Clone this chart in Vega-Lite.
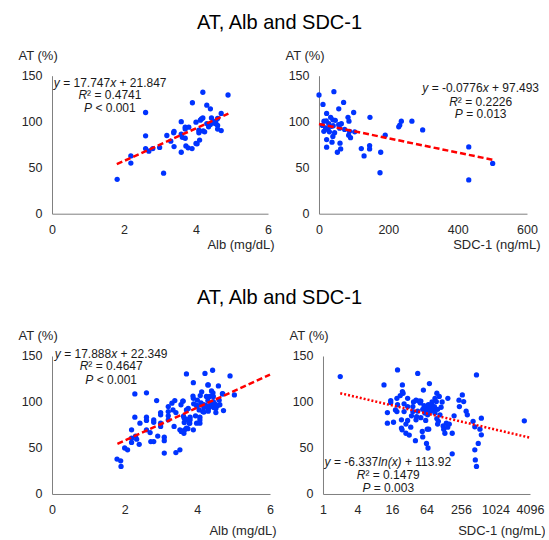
{
  "$schema": "https://vega.github.io/schema/vega-lite/v6.json",
  "background": "white",
  "padding": {"left": 18, "top": 12.7, "right": 0, "bottom": 0},
  "bounds": "flush",
  "spacing": 280.3,
  "config": {
    "view": {"stroke": null},
    "font": "Liberation Sans",
    "axis": {"grid": false, "ticks": false, "domainColor": "#808080", "domainWidth": 1, "labelColor": "#262626", "titleColor": "#262626", "labelFont": "Liberation Sans", "titleFont": "Liberation Sans", "labelFontSize": 12.5, "titleFontSize": 13, "titleFontWeight": "normal", "labelPadding": 10, "labelFlush": false, "labelOverlap": false},
    "axisY": {"titleAngle": 0, "titleAlign": "left", "titleBaseline": "middle", "titleX": -34, "titleY": -20},
    "axisX": {"titleAlign": "right", "titleBaseline": "middle"},
    "title": {"font": "Liberation Sans", "fontSize": 20, "fontWeight": "normal", "color": "#000000", "anchor": "middle", "frame": "group"}
  },
  "datasets": {
    "p1": [
      {"x":1.81,"y":37.4},{"x":2.19,"y":62.8},{"x":2.19,"y":55},{"x":2.6,"y":110},{"x":2.6,"y":84.6},{"x":2.6,"y":70.8},{"x":2.69,"y":68},{"x":2.8,"y":70.8},{"x":2.99,"y":72},{"x":3.1,"y":44},
      {"x":3.19,"y":85},{"x":3.3,"y":78.8},{"x":3.38,"y":88},{"x":3.39,"y":89.5},{"x":3.39,"y":73},{"x":3.59,"y":100},{"x":3.59,"y":86.5},{"x":3.59,"y":66.8},{"x":3.7,"y":94},{"x":3.7,"y":92},
      {"x":3.7,"y":82},{"x":3.8,"y":94},{"x":3.78,"y":71.6},{"x":3.89,"y":70.8},{"x":3.9,"y":120.6},{"x":3.72,"y":73.7},{"x":4.0,"y":99.5},{"x":4.0,"y":76.3},{"x":4.08,"y":90.8},{"x":4.08,"y":88},
      {"x":4.1,"y":80},{"x":4.12,"y":101.7},{"x":4.19,"y":104},{"x":4.19,"y":132},{"x":4.2,"y":90},{"x":4.24,"y":89},{"x":4.3,"y":118},{"x":4.3,"y":98},{"x":4.35,"y":94.4},{"x":4.4,"y":97},
      {"x":4.4,"y":114},{"x":4.5,"y":100},{"x":4.53,"y":98},{"x":4.55,"y":100},{"x":4.6,"y":103.5},{"x":4.6,"y":96},{"x":4.6,"y":92},{"x":4.7,"y":109},{"x":4.7,"y":90.4},{"x":4.89,"y":129},
      {"x":3.62,"y":83},{"x":4.15,"y":103},{"x":4.43,"y":104},{"x":4.03,"y":76}
    ],
    "p2": [
      {"x":0,"y":129},{"x":11.5,"y":118.8},{"x":43,"y":132.6},{"x":71,"y":121},{"x":57,"y":114},{"x":100,"y":110},{"x":22,"y":109},{"x":14.4,"y":100.6},{"x":33.6,"y":104.7},{"x":40,"y":102},
      {"x":47,"y":101.5},{"x":28,"y":98},{"x":21,"y":101},{"x":19,"y":93.3},{"x":26,"y":91.6},{"x":35.6,"y":95},{"x":41,"y":95.6},{"x":56.7,"y":96.7},{"x":59.6,"y":93},{"x":64.4,"y":97.8},
      {"x":74,"y":91.6},{"x":83.7,"y":104.7},{"x":86.5,"y":100.6},{"x":85.6,"y":85.4},{"x":91,"y":82.6},{"x":103,"y":89},{"x":22,"y":80.6},{"x":37.5,"y":77.7},{"x":22,"y":72.3},{"x":60.6,"y":76.6},
      {"x":62.5,"y":70.4},{"x":53,"y":66.8},{"x":147,"y":104.7},{"x":146,"y":74},{"x":146,"y":70.4},{"x":122,"y":70.8},{"x":130,"y":62.8},{"x":178,"y":66.8},{"x":176,"y":44.5},{"x":191,"y":85.4},
      {"x":230,"y":94.4},{"x":233,"y":96.3},{"x":237.5,"y":100.6},{"x":268,"y":100.6},{"x":299,"y":91},{"x":432,"y":72.6},{"x":432,"y":36.7},{"x":501,"y":54.6},{"x":14,"y":89.5},{"x":30,"y":89},
      {"x":45,"y":88},{"x":88,"y":89.5},{"x":40,"y":84},{"x":10,"y":96}
    ],
    "p3": [
      {"x":1.79,"y":37.9},{"x":1.89,"y":36},{"x":1.9,"y":30},{"x":2.0,"y":50},{"x":2.08,"y":48},{"x":2.19,"y":69.7},{"x":2.19,"y":56},{"x":2.19,"y":60.7},{"x":2.28,"y":83.5},{"x":2.28,"y":108.8},
      {"x":2.3,"y":63},{"x":2.33,"y":59.6},{"x":2.42,"y":77},{"x":2.4,"y":54},{"x":2.6,"y":110},{"x":2.6,"y":83.5},{"x":2.6,"y":80},{"x":2.6,"y":69.7},{"x":2.7,"y":66.8},{"x":2.72,"y":57},
      {"x":2.8,"y":80.5},{"x":2.8,"y":78},{"x":2.8,"y":57},{"x":2.88,"y":101.5},{"x":2.91,"y":63},{"x":2.99,"y":88.5},{"x":2.99,"y":86},{"x":2.99,"y":77},{"x":2.99,"y":73.4},{"x":3.09,"y":61.8},
      {"x":3.09,"y":58},{"x":3.09,"y":44.5},{"x":3.2,"y":95},{"x":3.2,"y":89.6},{"x":3.2,"y":85},{"x":3.2,"y":80.6},{"x":3.3,"y":98.7},{"x":3.33,"y":91.4},{"x":3.38,"y":101.5},{"x":3.36,"y":73.4},
      {"x":3.41,"y":88.5},{"x":3.41,"y":45},{"x":3.52,"y":48},{"x":3.52,"y":69.7},{"x":3.57,"y":68},{"x":3.61,"y":101},{"x":3.64,"y":82.4},{"x":3.64,"y":77.7},{"x":3.65,"y":69.7},{"x":3.63,"y":66},
      {"x":3.7,"y":130.5},{"x":3.7,"y":91.4},{"x":3.75,"y":93},{"x":3.7,"y":71.5},{"x":3.78,"y":77},{"x":3.8,"y":83.5},{"x":3.8,"y":80.6},{"x":3.89,"y":121},{"x":3.89,"y":104},{"x":3.89,"y":69.7},
      {"x":3.98,"y":96},{"x":3.98,"y":77},{"x":4.0,"y":102},{"x":4.05,"y":91.4},{"x":4.07,"y":83.5},{"x":4.07,"y":80.5},{"x":4.07,"y":77},{"x":4.12,"y":111},{"x":4.15,"y":89.6},{"x":4.18,"y":89},
      {"x":4.18,"y":94},{"x":4.18,"y":97},{"x":4.21,"y":131},{"x":4.25,"y":106},{"x":4.29,"y":101.5},{"x":4.3,"y":118.5},{"x":4.35,"y":95},{"x":4.37,"y":97},{"x":4.39,"y":112},{"x":4.42,"y":134.5},
      {"x":4.44,"y":106},{"x":4.44,"y":100.5},{"x":4.48,"y":98},{"x":4.51,"y":93},{"x":4.51,"y":88.5},{"x":4.58,"y":117.5},{"x":4.6,"y":102},{"x":4.62,"y":97},{"x":4.7,"y":108.8},{"x":4.72,"y":90.7},
      {"x":4.9,"y":128.3},{"x":5.02,"y":107.7},{"x":3.55,"y":97},{"x":3.9,"y":98},{"x":4.0,"y":96},{"x":4.1,"y":99},{"x":4.25,"y":96},{"x":4.3,"y":92},{"x":4.45,"y":94},{"x":4.55,"y":96},
      {"x":3.95,"y":85},{"x":4.3,"y":90},{"x":4.29,"y":118.6},{"x":4.43,"y":110},{"x":4.34,"y":106},{"x":3.88,"y":106.4},{"x":4.08,"y":107},{"x":4.69,"y":109},{"x":3.6,"y":101},{"x":3.56,"y":68},
      {"x":3.74,"y":71},{"x":3.79,"y":77},{"x":3.7,"y":81},{"x":3.62,"y":84.6}
    ],
    "p4": [
      {"x":2.0,"y":127.6},{"x":11.6,"y":118.5},{"x":20,"y":134.8},{"x":13.3,"y":88.5},{"x":13.3,"y":77},{"x":15.2,"y":101.5},{"x":15.2,"y":99.4},{"x":18.4,"y":91.4},{"x":19.5,"y":89.6},{"x":23.4,"y":80.6},
      {"x":23.4,"y":71.6},{"x":24,"y":69.7},{"x":24.3,"y":118.5},{"x":24.3,"y":111.3},{"x":25,"y":109.5},{"x":26,"y":98},{"x":26,"y":89.6},{"x":28,"y":66},{"x":30,"y":104},{"x":30,"y":95},
      {"x":32,"y":64},{"x":34,"y":72.6},{"x":37,"y":95},{"x":37,"y":89.6},{"x":42,"y":102},{"x":42,"y":80.6},{"x":43,"y":84},{"x":45,"y":131},{"x":41,"y":58},{"x":49,"y":101},
      {"x":51,"y":101},{"x":51,"y":83},{"x":54,"y":68},{"x":55,"y":62},{"x":56.5,"y":113},{"x":64,"y":55},{"x":68,"y":50},{"x":62,"y":91},{"x":65,"y":95},{"x":69,"y":97},
      {"x":73,"y":93},{"x":72,"y":120},{"x":66,"y":70.5},{"x":70,"y":70.5},{"x":78,"y":97},{"x":85,"y":91},{"x":90,"y":88},{"x":90,"y":104},{"x":95,"y":100.5},{"x":97,"y":109.5},
      {"x":97,"y":82},{"x":103,"y":79},{"x":107,"y":106},{"x":115,"y":94.3},{"x":128,"y":70.5},{"x":134,"y":66},{"x":142,"y":77},{"x":150,"y":72.6},{"x":151,"y":104},{"x":180,"y":43.7},
      {"x":180,"y":66},{"x":194,"y":85},{"x":236,"y":102},{"x":270,"y":107.7},{"x":285,"y":100.5},{"x":240,"y":95},{"x":315,"y":90},{"x":330,"y":86},{"x":416,"y":79},{"x":446,"y":73},
      {"x":446,"y":48},{"x":455,"y":37},{"x":477,"y":129.4},{"x":477,"y":30},{"x":512,"y":55},{"x":548,"y":70.5},{"x":580,"y":82.4},{"x":580,"y":64.3},{"x":3260,"y":79.5},{"x":55,"y":92},
      {"x":60,"y":88},{"x":75,"y":90},{"x":80,"y":100},{"x":58,"y":96},{"x":67,"y":86},{"x":88,"y":95},{"x":100,"y":92},{"x":110,"y":86},{"x":120,"y":100},{"x":35,"y":85},
      {"x":45,"y":90},{"x":30,"y":80},{"x":20,"y":97},{"x":17,"y":78},{"x":28,"y":76},{"x":62,"y":80},{"x":100,"y":76},{"x":125,"y":74},{"x":160,"y":76},{"x":22.3,"y":107},
      {"x":38,"y":100},{"x":50,"y":99},{"x":46.6,"y":101},{"x":19.5,"y":104}
    ],
    "l1": [{"x":1.8,"y":53.79},{"x":4.9,"y":108.81}],
    "l2": [{"x":0,"y":97.49},{"x":500,"y":58.69}],
    "l3": [{"x":1.8,"y":54.55},{"x":6,"y":129.68}],
    "l4": [{"x":2,"y":109.53},{"x":4096,"y":61.21}],
    "a1": [
      {"x":0.05,"y":142.4,"t":"y","s":"i"},{"x":0.31,"y":142.4,"t":"= 17.747","s":"r"},{"x":1.616,"y":142.4,"t":"x","s":"i"},{"x":1.876,"y":142.4,"t":"+ 21.847","s":"r"},
      {"x":0.733,"y":129,"t":"R","s":"i"},{"x":0.974,"y":129,"t":"² = 0.4741","s":"r"},
      {"x":0.89,"y":114.5,"t":"P","s":"i"},{"x":1.205,"y":114.5,"t":"< 0.001","s":"r"}
    ],
    "a2": [
      {"x":298.0,"y":136.3,"t":"y","s":"i"},{"x":324.9,"y":136.3,"t":"= -0.0776","s":"r"},{"x":472.2,"y":136.3,"t":"x","s":"i"},{"x":499.1,"y":136.3,"t":"+ 97.493","s":"r"},
      {"x":375.6,"y":121.7,"t":"R","s":"i"},{"x":400.6,"y":121.7,"t":"² = 0.2226","s":"r"},
      {"x":391.9,"y":108,"t":"P","s":"i"},{"x":424.6,"y":108,"t":"= 0.013","s":"r"}
    ],
    "a3": [
      {"x":0.077,"y":152.2,"t":"y","s":"i"},{"x":0.334,"y":152.2,"t":"= 17.888","s":"r"},{"x":1.629,"y":152.2,"t":"x","s":"i"},{"x":1.886,"y":152.2,"t":"+ 22.349","s":"r"},
      {"x":0.762,"y":138.7,"t":"R","s":"i"},{"x":1.001,"y":138.7,"t":"² = 0.4647","s":"r"},
      {"x":0.918,"y":124.2,"t":"P","s":"i"},{"x":1.23,"y":124.2,"t":"< 0.001","s":"r"}
    ],
    "a4": [
      {"x":1.066,"y":34.8,"t":"y","s":"i"},{"x":1.552,"y":34.8,"t":"= -6.337","s":"r"},{"x":9.23,"y":34.8,"t":"ln(x)","s":"i"},{"x":26.95,"y":34.8,"t":"+ 113.92","s":"r"},
      {"x":3.89,"y":21,"t":"R","s":"i"},{"x":5.51,"y":21,"t":"² = 0.1479","s":"r"},
      {"x":4.88,"y":6.5,"t":"P","s":"i"},{"x":7.70,"y":6.5,"t":"= 0.003","s":"r"}
    ]
  },
  "vconcat": [
    {
      "title": {"text": "AT, Alb and SDC-1", "dx": 227.5, "offset": 17},
      "bounds": "flush",
      "spacing": 51,
      "hconcat": [
        {
          "width": 216, "height": 138,
          "encoding": {
            "x": {"field": "x", "type": "quantitative", "scale": {"domain": [0, 6], "nice": false, "zero": false}, "axis": {"values": [0, 2, 4, 6], "title": "Alb (mg/dL)", "titleX": 222, "titleY": 31}},
            "y": {"field": "y", "type": "quantitative", "scale": {"domain": [0, 150], "nice": false}, "axis": {"values": [0, 50, 100, 150], "title": "AT (%)"}}
          },
          "layer": [
            {"data": {"name": "p1"}, "mark": {"type": "circle", "size": 28, "color": "#0033ff", "opacity": 1}},
            {"data": {"name": "l1"}, "mark": {"type": "line", "color": "#ff0000", "strokeWidth": 2.5, "strokeDash": [6, 3]}},
            {"data": {"name": "a1"}, "transform": [{"filter": "datum.s == 'i'"}], "mark": {"type": "text", "align": "left", "baseline": "middle", "fontSize": 12, "fontStyle": "italic", "font": "Liberation Sans", "color": "#1a1a1a"}, "encoding": {"text": {"field": "t"}}},
            {"data": {"name": "a1"}, "transform": [{"filter": "datum.s == 'r'"}], "mark": {"type": "text", "align": "left", "baseline": "middle", "fontSize": 12, "font": "Liberation Sans", "color": "#1a1a1a"}, "encoding": {"text": {"field": "t"}}}
          ]
        },
        {
          "width": 208, "height": 138,
          "encoding": {
            "x": {"field": "x", "type": "quantitative", "scale": {"domain": [0, 600], "nice": false, "zero": false}, "axis": {"values": [0, 200, 400, 600], "title": "SDC-1 (ng/mL)", "titleX": 221, "titleY": 31}},
            "y": {"field": "y", "type": "quantitative", "scale": {"domain": [0, 150], "nice": false}, "axis": {"values": [0, 50, 100, 150], "title": "AT (%)"}}
          },
          "layer": [
            {"data": {"name": "p2"}, "mark": {"type": "circle", "size": 28, "color": "#0033ff", "opacity": 1}},
            {"data": {"name": "l2"}, "mark": {"type": "line", "color": "#ff0000", "strokeWidth": 2.5, "strokeDash": [6, 3]}},
            {"data": {"name": "a2"}, "transform": [{"filter": "datum.s == 'i'"}], "mark": {"type": "text", "align": "left", "baseline": "middle", "fontSize": 12, "fontStyle": "italic", "font": "Liberation Sans", "color": "#1a1a1a"}, "encoding": {"text": {"field": "t"}}},
            {"data": {"name": "a2"}, "transform": [{"filter": "datum.s == 'r'"}], "mark": {"type": "text", "align": "left", "baseline": "middle", "fontSize": 12, "font": "Liberation Sans", "color": "#1a1a1a"}, "encoding": {"text": {"field": "t"}}}
          ]
        }
      ]
    },
    {
      "title": {"text": "AT, Alb and SDC-1", "dx": 227.5, "offset": 22},
      "bounds": "flush",
      "spacing": 53,
      "hconcat": [
        {
          "width": 218, "height": 138,
          "encoding": {
            "x": {"field": "x", "type": "quantitative", "scale": {"domain": [0, 6], "nice": false, "zero": false}, "axis": {"values": [0, 2, 4, 6], "title": "Alb (mg/dL)", "titleX": 224, "titleY": 37}},
            "y": {"field": "y", "type": "quantitative", "scale": {"domain": [0, 150], "nice": false}, "axis": {"values": [0, 50, 100, 150], "title": "AT (%)"}}
          },
          "layer": [
            {"data": {"name": "p3"}, "mark": {"type": "circle", "size": 28, "color": "#0033ff", "opacity": 1}},
            {"data": {"name": "l3"}, "mark": {"type": "line", "color": "#ff0000", "strokeWidth": 2.5, "strokeDash": [6, 3]}},
            {"data": {"name": "a3"}, "transform": [{"filter": "datum.s == 'i'"}], "mark": {"type": "text", "align": "left", "baseline": "middle", "fontSize": 12, "fontStyle": "italic", "font": "Liberation Sans", "color": "#1a1a1a"}, "encoding": {"text": {"field": "t"}}},
            {"data": {"name": "a3"}, "transform": [{"filter": "datum.s == 'r'"}], "mark": {"type": "text", "align": "left", "baseline": "middle", "fontSize": 12, "font": "Liberation Sans", "color": "#1a1a1a"}, "encoding": {"text": {"field": "t"}}}
          ]
        },
        {
          "width": 207, "height": 138,
          "encoding": {
            "x": {"field": "x", "type": "quantitative", "scale": {"type": "log", "base": 2, "domain": [1, 4096], "nice": false}, "axis": {"values": [1, 4, 16, 64, 256, 1024, 4096], "format": "d", "title": "SDC-1 (ng/mL)", "titleX": 222, "titleY": 37}},
            "y": {"field": "y", "type": "quantitative", "scale": {"domain": [0, 150], "nice": false}, "axis": {"values": [0, 50, 100, 150], "title": "AT (%)"}}
          },
          "layer": [
            {"data": {"name": "p4"}, "mark": {"type": "circle", "size": 28, "color": "#0033ff", "opacity": 1}},
            {"data": {"name": "l4"}, "mark": {"type": "line", "color": "#ff0000", "strokeWidth": 2.5, "strokeDash": [2, 2]}},
            {"data": {"name": "a4"}, "transform": [{"filter": "datum.s == 'i'"}], "mark": {"type": "text", "align": "left", "baseline": "middle", "fontSize": 12, "fontStyle": "italic", "font": "Liberation Sans", "color": "#1a1a1a"}, "encoding": {"text": {"field": "t"}}},
            {"data": {"name": "a4"}, "transform": [{"filter": "datum.s == 'r'"}], "mark": {"type": "text", "align": "left", "baseline": "middle", "fontSize": 12, "font": "Liberation Sans", "color": "#1a1a1a"}, "encoding": {"text": {"field": "t"}}}
          ]
        }
      ]
    }
  ]
}
